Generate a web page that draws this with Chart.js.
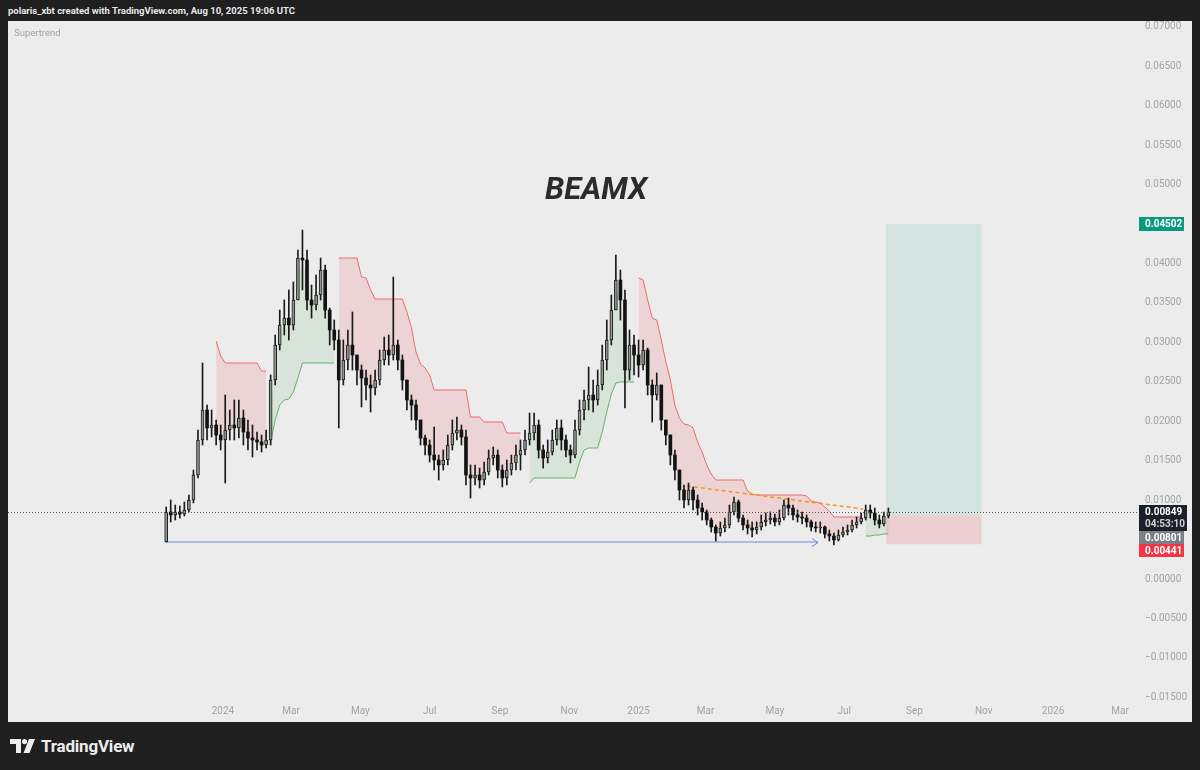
<!DOCTYPE html>
<html>
<head>
    <title>BEAMX</title>
    <script src="https://cdn.jsdelivr.net/npm/chart.js"></script>
    <style>
        body { margin: 0; width: 1200px; height: 770px; overflow: hidden; background: #1f1f1f; font-family: Roboto, Arial, sans-serif; }
        .header { position: absolute; left: 8px; top: 5px; color: #e8e8e8; font-size: 9.5px; font-weight: bold; white-space: nowrap; }
        .panel { position: absolute; left: 8px; top: 21px; width: 1184px; height: 701px; background: #ececec; }
        .panel canvas { position: absolute; left: 0; top: 0; }
        .study { position: absolute; left: 6px; top: 6px; font-size: 9.5px; color: #a2a2a2; }
        .footer { position: absolute; left: 10px; top: 736px; height: 20px; display: flex; align-items: center; }
        .footer span { color: #ededed; font-size: 17px; font-weight: bold; margin-left: 6px; letter-spacing: -0.2px; }
    </style>
</head>
<body>
    <div class="header">polaris_xbt created with TradingView.com, Aug 10, 2025 19:06 UTC</div>
    <div class="panel">
        <canvas id="chart" width="1184" height="701"></canvas>
        <div class="study">Supertrend</div>
    </div>
    <div class="footer">
        <svg width="25" height="14" viewBox="0 0 25 14">
            <path d="M0 0 H11 V14 H6 V5 H0 Z" fill="#ededed"/>
            <circle cx="14.5" cy="2.6" r="2.6" fill="#ededed"/>
            <path d="M19 0 H25 L19.5 14 H13.5 Z" fill="#ededed"/>
        </svg>
        <span>TradingView</span>
    </div>

    <script>
        // candles: one bar every 4 days, starting mid Nov 2023 (day 0 = 1 Jan 2024)
        const firstDay = -50;
        const stepDays = 4;
        const firstOpen = 0.00469;

        const close = [
            0.00850, 0.00812, 0.00850, 0.00824, 0.00875, 0.01002, 0.01319, 0.01763, 0.02143, 0.01915,
            0.01953, 0.01826, 0.01763, 0.01889, 0.01953, 0.01915, 0.02041, 0.01864, 0.01788, 0.01763,
            0.01737, 0.01699, 0.01763, 0.02523, 0.02967, 0.03221, 0.03309, 0.03221, 0.03538, 0.04070,
            0.04045, 0.03538, 0.03474, 0.03601, 0.03918, 0.03411, 0.03157, 0.03031, 0.02523, 0.02777,
            0.02967, 0.02840, 0.02650, 0.02549, 0.02460, 0.02422, 0.02523, 0.02777, 0.02904, 0.02840,
            0.02967, 0.02777, 0.02523, 0.02270, 0.02206, 0.02016, 0.01788, 0.01699, 0.01572, 0.01509,
            0.01446, 0.01509, 0.01699, 0.01851, 0.01889, 0.01801, 0.01319, 0.01281, 0.01319, 0.01255,
            0.01357, 0.01534, 0.01572, 0.01382, 0.01281, 0.01382, 0.01471, 0.01572, 0.01636, 0.01763,
            0.01851, 0.01953, 0.01636, 0.01534, 0.01610, 0.01763, 0.01915, 0.01763, 0.01636, 0.01572,
            0.01889, 0.02143, 0.02270, 0.02333, 0.02270, 0.02460, 0.02777, 0.03031, 0.03411, 0.03791,
            0.03538, 0.02650, 0.02967, 0.02840, 0.02714, 0.02904, 0.02460, 0.02333, 0.02460, 0.02016,
            0.01826, 0.01572, 0.01382, 0.01129, 0.01002, 0.01129, 0.01002, 0.00900, 0.00850, 0.00748,
            0.00659, 0.00583, 0.00647, 0.00685, 0.00850, 0.00976, 0.00773, 0.00685, 0.00647, 0.00621,
            0.00659, 0.00723, 0.00748, 0.00773, 0.00723, 0.00773, 0.00938, 0.00900, 0.00812, 0.00786,
            0.00773, 0.00723, 0.00659, 0.00647, 0.00659, 0.00571, 0.00545, 0.00495, 0.00558, 0.00596,
            0.00621, 0.00685, 0.00723, 0.00773, 0.00875, 0.00837, 0.00748, 0.00697, 0.00799, 0.00849
        ];
        const high = [
            0.00913, 0.01002, 0.00938, 0.00926, 0.00976, 0.01065, 0.01382, 0.01889, 0.02739, 0.02206,
            0.02143, 0.02016, 0.01953, 0.02333, 0.02143, 0.02270, 0.02270, 0.02143, 0.02016, 0.01953,
            0.01864, 0.01826, 0.01889, 0.02587, 0.03094, 0.03411, 0.03538, 0.03665, 0.03766, 0.04172,
            0.04425, 0.04172, 0.03728, 0.03855, 0.04070, 0.03982, 0.03436, 0.03284, 0.03157, 0.03031,
            0.03157, 0.03386, 0.02840, 0.02714, 0.02650, 0.02587, 0.02650, 0.02904, 0.03069, 0.03094,
            0.03829, 0.03031, 0.02840, 0.02523, 0.02333, 0.02270, 0.02016, 0.01826, 0.01763, 0.01927,
            0.01572, 0.01636, 0.01826, 0.02016, 0.02054, 0.01953, 0.01889, 0.01446, 0.01446, 0.01407,
            0.01484, 0.01636, 0.01674, 0.01636, 0.01446, 0.01509, 0.01572, 0.01699, 0.01763, 0.01889,
            0.02105, 0.02105, 0.02016, 0.01699, 0.01763, 0.01889, 0.02016, 0.02016, 0.01826, 0.01699,
            0.02016, 0.02270, 0.02397, 0.02688, 0.02523, 0.02650, 0.02967, 0.03284, 0.03601, 0.04108,
            0.03918, 0.03665, 0.03157, 0.03094, 0.03031, 0.03031, 0.02929, 0.02523, 0.02612, 0.02460,
            0.02016, 0.01826, 0.01636, 0.01382, 0.01192, 0.01217, 0.01167, 0.01065, 0.00964, 0.00875,
            0.00773, 0.00685, 0.00723, 0.00773, 0.00938, 0.01040, 0.01002, 0.00812, 0.00748, 0.00723,
            0.00723, 0.00812, 0.00837, 0.00850, 0.00824, 0.00875, 0.01002, 0.01027, 0.00938, 0.00875,
            0.00850, 0.00812, 0.00748, 0.00723, 0.00723, 0.00672, 0.00621, 0.00583, 0.00621, 0.00659,
            0.00685, 0.00748, 0.00786, 0.00837, 0.00938, 0.00938, 0.00900, 0.00812, 0.00850, 0.00900
        ];
        const low = [
            0.00469, 0.00723, 0.00748, 0.00773, 0.00799, 0.00850, 0.00964, 0.01281, 0.01699, 0.01763,
            0.01801, 0.01699, 0.01636, 0.01217, 0.01763, 0.01763, 0.01788, 0.01699, 0.01636, 0.01547,
            0.01636, 0.01610, 0.01661, 0.01699, 0.02460, 0.02904, 0.03094, 0.03031, 0.03157, 0.03538,
            0.03665, 0.03411, 0.03309, 0.03411, 0.03538, 0.03309, 0.02967, 0.02904, 0.01915, 0.02460,
            0.02650, 0.02650, 0.02460, 0.02181, 0.02270, 0.02118, 0.02333, 0.02460, 0.02714, 0.02714,
            0.02777, 0.02650, 0.02397, 0.02143, 0.02016, 0.01889, 0.01699, 0.01572, 0.01484, 0.01382,
            0.01255, 0.01382, 0.01446, 0.01636, 0.01763, 0.01699, 0.01192, 0.01027, 0.01192, 0.01154,
            0.01192, 0.01319, 0.01446, 0.01281, 0.01167, 0.01192, 0.01319, 0.01382, 0.01382, 0.01572,
            0.01699, 0.01763, 0.01534, 0.01407, 0.01471, 0.01572, 0.01699, 0.01636, 0.01547, 0.01471,
            0.01534, 0.01826, 0.02016, 0.02143, 0.02118, 0.02206, 0.02397, 0.02650, 0.02967, 0.03411,
            0.03284, 0.02168, 0.02523, 0.02587, 0.02561, 0.02650, 0.02333, 0.01991, 0.02270, 0.01889,
            0.01699, 0.01446, 0.01255, 0.01002, 0.00900, 0.00938, 0.00875, 0.00812, 0.00748, 0.00685,
            0.00596, 0.00482, 0.00545, 0.00596, 0.00647, 0.00812, 0.00723, 0.00621, 0.00571, 0.00533,
            0.00571, 0.00621, 0.00672, 0.00697, 0.00672, 0.00685, 0.00748, 0.00812, 0.00748, 0.00723,
            0.00697, 0.00659, 0.00609, 0.00596, 0.00583, 0.00520, 0.00482, 0.00431, 0.00482, 0.00533,
            0.00558, 0.00596, 0.00647, 0.00697, 0.00748, 0.00773, 0.00685, 0.00647, 0.00672, 0.00773
        ];

        // Supertrend: segments start at a candle index
        const stDown = [
            { from: 11, vals: [0.03018, 0.02828, 0.02739, 0.02739, 0.02739, 0.02739, 0.02739, 0.02739, 0.02739, 0.02739, 0.02637, 0.02637] },
            { from: 38, vals: [0.04070, 0.04070, 0.04070, 0.04070, 0.04070, 0.03829, 0.03817, 0.03665,
                               0.03550, 0.03550, 0.03550, 0.03550, 0.03550, 0.03550, 0.03550,
                               0.03386, 0.03183, 0.02878, 0.02726, 0.02675, 0.02587,
                               0.02397, 0.02397, 0.02397, 0.02397, 0.02397, 0.02397, 0.02397, 0.02397,
                               0.02054, 0.02054, 0.02054, 0.01991, 0.01991, 0.01991, 0.01991, 0.01991,
                               0.01851, 0.01851, 0.01851, 0.01851] },
            { from: 104, vals: [0.03817, 0.03791, 0.03538, 0.03309, 0.03284, 0.03031, 0.02752, 0.02523, 0.02206,
                                0.02041, 0.01965, 0.01953, 0.01915, 0.01737, 0.01610, 0.01446, 0.01331,
                                0.01255, 0.01255, 0.01255, 0.01255, 0.01255, 0.01255, 0.01255,
                                0.01116, 0.01078,
                                0.01065, 0.01065, 0.01065, 0.01065, 0.01065, 0.01065, 0.01065, 0.01065, 0.01065, 0.01065, 0.01065,
                                0.01052, 0.00989, 0.00976, 0.00964, 0.00913, 0.00862,
                                0.00786, 0.00786, 0.00786, 0.00786, 0.00786, 0.00786, 0.00786] }
        ];
        const stUp = [
            { from: 23, vals: [0.01737, 0.02016, 0.02206, 0.02270, 0.02282, 0.02371, 0.02549, 0.02739,
                               0.02739, 0.02739, 0.02739, 0.02739, 0.02739, 0.02739, 0.02739] },
            { from: 80, vals: [0.01217, 0.01281, 0.01281, 0.01281, 0.01281, 0.01281, 0.01281, 0.01281, 0.01281, 0.01281, 0.01281,
                               0.01484, 0.01636, 0.01661, 0.01661, 0.01661, 0.01864, 0.02118, 0.02346, 0.02485,
                               0.02498, 0.02498, 0.02498, 0.02498] },
            { from: 154, vals: [0.00545, 0.00545, 0.00558, 0.00558, 0.00571, 0.00571] }
        ];

        // drawings
        const trendDays = [408.6, 563.6];
        const trendPrices = [0.01179, 0.00888];
        const baseDays = [-50, 524];
        const basePrice = 0.00469;
        const boxDays = [583.9, 668.0];
        const targetPrice = 0.04502, entryPrice = 0.00801, stopPrice = 0.00441;
        const lastPrice = 0.00849;
        const countdown = '04:53:10';

        // axes
        const tickDays = [0, 60, 121, 182, 244, 305, 366, 425, 486, 547, 609, 670, 731, 790];
        const tickLabels = ['2024', 'Mar', 'May', 'Jul', 'Sep', 'Nov', '2025', 'Mar', 'May', 'Jul', 'Sep', 'Nov', '2026', 'Mar'];
        const yTicks = [0.07, 0.065, 0.06, 0.055, 0.05, 0.04, 0.035, 0.03, 0.025, 0.02, 0.015, 0.01, 0, -0.005, -0.01, -0.015];
        const xMin = -189.3, xMax = 805.8;
        const yMin = -0.01547, yMax = 0.07063;

        const days = close.map((c, i) => firstDay + i * stepDays);
        const open = close.map((c, i) => i === 0 ? firstOpen : close[i - 1]);
        const isUp = close.map((c, i) => c >= open[i]);
        const mids = close.map((c, i) => (c + open[i]) / 2);

        function expand(segs) {
            const arr = close.map(() => null);
            segs.forEach(s => s.vals.forEach((v, k) => { arr[s.from + k] = v; }));
            return arr.map((v, i) => ({ x: days[i], y: v }));
        }

        function fmt(v) {
            const s = Math.abs(v).toFixed(5);
            return v < -1e-9 ? '\u2212' + s : s;
        }

        const overlay = {
            id: 'overlay',
            beforeDatasetsDraw(chart) {
                const { ctx, scales: { x, y } } = chart;
                const x0 = x.getPixelForValue(boxDays[0]);
                const x1 = x.getPixelForValue(boxDays[1]);
                const yT = y.getPixelForValue(targetPrice);
                const yE = y.getPixelForValue(entryPrice);
                const yS = y.getPixelForValue(stopPrice);
                ctx.save();
                ctx.fillStyle = 'rgba(8,153,129,0.11)';
                ctx.fillRect(x0, yT, x1 - x0, yE - yT);
                ctx.fillStyle = 'rgba(242,54,69,0.16)';
                ctx.fillRect(x0, yE, x1 - x0, yS - yE);
                ctx.restore();
            },
            afterDatasetsDraw(chart) {
                const { ctx, chartArea: a, scales: { x, y } } = chart;
                ctx.save();
                // last price dotted line
                const yp = Math.round(y.getPixelForValue(lastPrice)) + 0.5;
                ctx.strokeStyle = '#5a5a5a';
                ctx.lineWidth = 1;
                ctx.setLineDash([1, 2]);
                ctx.beginPath();
                ctx.moveTo(a.left, yp);
                ctx.lineTo(a.right + 8, yp);
                ctx.stroke();
                ctx.setLineDash([]);
                // arrow head of the base line
                const ax = x.getPixelForValue(baseDays[1]);
                const ay = Math.round(y.getPixelForValue(basePrice)) + 0.5;
                ctx.strokeStyle = '#6d8ad6';
                ctx.beginPath();
                ctx.moveTo(ax - 6, ay - 4);
                ctx.lineTo(ax, ay);
                ctx.lineTo(ax - 6, ay + 4);
                ctx.stroke();
                // title
                ctx.fillStyle = '#2b2b2b';
                ctx.font = 'italic bold 31px Roboto, Arial, sans-serif';
                ctx.textAlign = 'center';
                ctx.textBaseline = 'alphabetic';
                ctx.fillText('BEAMX', 588, 178);
                ctx.restore();
            },
            afterDraw(chart) {
                const { ctx, scales: { y } } = chart;
                const bx = y.left + 1;
                const tx = y.left + 7;
                ctx.save();
                ctx.font = 'bold 10px Roboto, Arial, sans-serif';
                ctx.textAlign = 'left';
                ctx.textBaseline = 'middle';
                function tag(top, h, w, bg, lines) {
                    ctx.fillStyle = bg;
                    ctx.fillRect(bx, top, w, h);
                    lines.forEach((l, k) => {
                        ctx.fillStyle = l.c;
                        ctx.fillText(l.t, tx, top + 7 + k * 12);
                    });
                }
                const yt = y.getPixelForValue(targetPrice);
                tag(Math.round(yt) - 7, 14, 45, '#089981', [{ t: fmt(targetPrice), c: '#ffffff' }]);
                const yl = Math.round(y.getPixelForValue(lastPrice));
                const top = yl - 7;
                tag(top, 26, 48, '#1b1f29', [{ t: fmt(lastPrice), c: '#ffffff' }, { t: countdown, c: '#d0d0d0' }]);
                tag(top + 26, 13, 45, '#7c7f88', [{ t: fmt(entryPrice), c: '#ffffff' }]);
                tag(top + 39, 13, 45, '#f23645', [{ t: fmt(stopPrice), c: '#ffffff' }]);
                ctx.restore();
            }
        };

        new Chart(document.getElementById('chart'), {
            type: 'bar',
            data: {
                datasets: [
                    {
                        label: 'wicks',
                        data: days.map((d, i) => ({ x: d, y: [low[i], high[i]] })),
                        backgroundColor: '#1a1a1a',
                        barThickness: 1,
                        grouped: false,
                        order: 1
                    },
                    {
                        label: 'bodies',
                        data: days.map((d, i) => ({ x: d, y: [open[i], close[i]] })),
                        backgroundColor: isUp.map(u => u ? '#8e988f' : '#131313'),
                        borderColor: '#1e1e1e',
                        borderWidth: isUp.map(u => u ? 1 : 0),
                        borderSkipped: false,
                        barThickness: 3,
                        minBarLength: 1,
                        grouped: false,
                        order: 0
                    },
                    {
                        type: 'line',
                        label: 'body middle',
                        data: days.map((d, i) => ({ x: d, y: mids[i] })),
                        borderWidth: 0,
                        borderColor: 'rgba(0,0,0,0)',
                        pointRadius: 0,
                        fill: false,
                        order: 9
                    },
                    {
                        type: 'line',
                        label: 'Down trend',
                        data: expand(stDown),
                        borderColor: '#ef6a67',
                        borderWidth: 1,
                        pointRadius: 0,
                        spanGaps: false,
                        fill: { target: 2, above: 'rgba(242,54,69,0.13)', below: 'rgba(242,54,69,0.13)' },
                        order: 5
                    },
                    {
                        type: 'line',
                        label: 'Up trend',
                        data: expand(stUp),
                        borderColor: '#5fb366',
                        borderWidth: 1,
                        pointRadius: 0,
                        spanGaps: false,
                        fill: { target: 2, above: 'rgba(76,175,80,0.12)', below: 'rgba(76,175,80,0.12)' },
                        order: 5
                    },
                    {
                        type: 'line',
                        label: 'trend',
                        data: trendDays.map((d, i) => ({ x: d, y: trendPrices[i] })),
                        borderColor: '#f7941d',
                        borderWidth: 1.5,
                        borderDash: [4, 3],
                        pointRadius: 0,
                        fill: false,
                        order: 3
                    },
                    {
                        type: 'line',
                        label: 'base',
                        data: baseDays.map(d => ({ x: d, y: basePrice })),
                        borderColor: '#6d8ad6',
                        borderWidth: 1,
                        pointRadius: 0,
                        fill: false,
                        order: 3
                    }
                ]
            },
            options: {
                responsive: false,
                animation: false,
                layout: { padding: { top: 1, left: 0, right: 0, bottom: 0 } },
                plugins: {
                    legend: { display: false },
                    tooltip: { enabled: false }
                },
                scales: {
                    x: {
                        type: 'linear',
                        min: xMin,
                        max: xMax,
                        offset: false,
                        grid: { display: false, drawTicks: false, offset: false },
                        border: { display: false },
                        afterBuildTicks: s => { s.ticks = tickDays.map(v => ({ value: v })); },
                        afterFit: s => { s.height = 21; s.paddingLeft = 0; s.paddingRight = 0; },
                        ticks: {
                            autoSkip: false,
                            maxRotation: 0,
                            padding: 4,
                            color: '#a3a3a3',
                            font: { family: 'Roboto', size: 10 },
                            callback: (v, i) => tickLabels[i]
                        }
                    },
                    y: {
                        position: 'right',
                        min: yMin,
                        max: yMax,
                        grid: { display: false, drawTicks: false },
                        border: { display: false },
                        afterBuildTicks: s => { s.ticks = yTicks.map(v => ({ value: v })); },
                        afterFit: s => { s.width = 54; s.paddingTop = 0; s.paddingBottom = 0; },
                        ticks: {
                            padding: 7,
                            color: '#a3a3a3',
                            font: { family: 'Roboto', size: 10 },
                            callback: v => fmt(v)
                        }
                    }
                }
            },
            plugins: [overlay]
        });
    </script>
</body>
</html>
